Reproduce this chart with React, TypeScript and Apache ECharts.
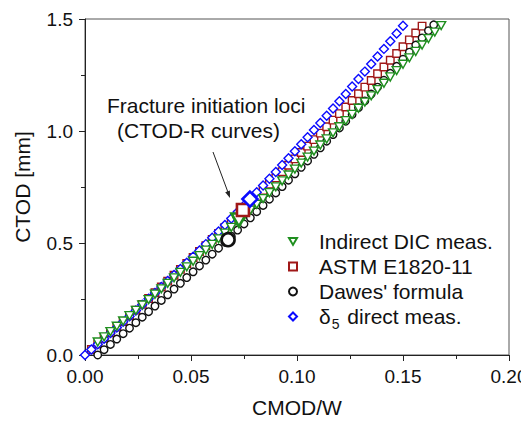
import React, { useEffect, useRef } from "react";
import * as echarts from "echarts";

// CMOD/W vs CTOD [mm]
const dicMeas: [number, number][] = [
  [0.006, 0.058], [0.009, 0.0813], [0.012, 0.1047], [0.015, 0.1282], [0.018, 0.1518],
  [0.021, 0.1755], [0.024, 0.1993], [0.027, 0.2232], [0.03, 0.2472], [0.033, 0.2714],
  [0.036, 0.2956], [0.039, 0.32], [0.042, 0.3445], [0.045, 0.3691], [0.048, 0.3938],
  [0.051, 0.4186], [0.054, 0.4435], [0.057, 0.4685], [0.06, 0.4936], [0.063, 0.5188],
  [0.066, 0.5442], [0.069, 0.5696], [0.072, 0.5952], [0.075, 0.6209], [0.078, 0.6466],
  [0.081, 0.6725], [0.084, 0.6985], [0.087, 0.7246], [0.09, 0.7509], [0.093, 0.7772],
  [0.096, 0.8036], [0.099, 0.8301], [0.102, 0.8568], [0.105, 0.8836], [0.108, 0.9104],
  [0.111, 0.9374], [0.114, 0.9645], [0.117, 0.9917], [0.12, 1.019], [0.123, 1.0464],
  [0.126, 1.0739], [0.129, 1.1016], [0.132, 1.1293], [0.135, 1.1571], [0.138, 1.1851],
  [0.141, 1.2132], [0.144, 1.2413], [0.147, 1.2696], [0.15, 1.298], [0.153, 1.3265],
  [0.156, 1.3551], [0.159, 1.3838], [0.162, 1.4127], [0.165, 1.4416], [0.168, 1.4707],
];

const astm: [number, number][] = [
  [0.003, 0.0247], [0.006, 0.0494], [0.009, 0.0743], [0.012, 0.0993], [0.015, 0.1245],
  [0.018, 0.1497], [0.021, 0.1751], [0.024, 0.2005], [0.027, 0.2261], [0.03, 0.2519],
  [0.033, 0.2777], [0.036, 0.3036], [0.039, 0.3297], [0.042, 0.3559], [0.045, 0.3822],
  [0.048, 0.4086], [0.051, 0.4351], [0.054, 0.4618], [0.057, 0.4885], [0.06, 0.5154],
  [0.063, 0.5424], [0.066, 0.5695], [0.069, 0.5967], [0.072, 0.6241], [0.075, 0.6516],
  [0.078, 0.6791], [0.081, 0.7068], [0.084, 0.7347], [0.087, 0.7626], [0.09, 0.7907],
  [0.093, 0.8188], [0.096, 0.8471], [0.099, 0.8755], [0.102, 0.904], [0.105, 0.9327],
  [0.108, 0.9614], [0.111, 0.9903], [0.114, 1.0193], [0.117, 1.0484], [0.12, 1.0776],
  [0.123, 1.1069], [0.126, 1.1364], [0.129, 1.166], [0.132, 1.1957], [0.135, 1.2255],
  [0.138, 1.2554], [0.141, 1.2854], [0.144, 1.3156], [0.147, 1.3459], [0.15, 1.3763],
  [0.153, 1.4068], [0.156, 1.4374], [0.159, 1.4681],
];

const dawes: [number, number][] = [
  [0.006, 0.0], [0.009, 0.0236], [0.012, 0.0474], [0.015, 0.0713], [0.018, 0.0954],
  [0.021, 0.1197], [0.024, 0.1441], [0.027, 0.1687], [0.03, 0.1935], [0.033, 0.2184],
  [0.036, 0.2435], [0.039, 0.2688], [0.042, 0.2942], [0.045, 0.3198], [0.048, 0.3456],
  [0.051, 0.3715], [0.054, 0.3976], [0.057, 0.4238], [0.06, 0.4503], [0.063, 0.4769],
  [0.066, 0.5036], [0.069, 0.5306], [0.072, 0.5576], [0.075, 0.5849], [0.078, 0.6123],
  [0.081, 0.6399], [0.084, 0.6677], [0.087, 0.6956], [0.09, 0.7237], [0.093, 0.7519],
  [0.096, 0.7804], [0.099, 0.809], [0.102, 0.8377], [0.105, 0.8666], [0.108, 0.8957],
  [0.111, 0.925], [0.114, 0.9544], [0.117, 0.984], [0.12, 1.0137], [0.123, 1.0436],
  [0.126, 1.0737], [0.129, 1.104], [0.132, 1.1344], [0.135, 1.165], [0.138, 1.1957],
  [0.141, 1.2266], [0.144, 1.2577], [0.147, 1.2889], [0.15, 1.3204], [0.153, 1.3519],
  [0.156, 1.3837], [0.159, 1.4156], [0.162, 1.4477], [0.1645, 1.474],
];

const delta5: [number, number][] = [
  [0.0, 0.0], [0.003, 0.0241], [0.006, 0.0484], [0.009, 0.073], [0.012, 0.0977],
  [0.015, 0.1227], [0.018, 0.1479], [0.021, 0.1733], [0.024, 0.1989], [0.027, 0.2247],
  [0.03, 0.2508], [0.033, 0.2771], [0.036, 0.3036], [0.039, 0.3303], [0.042, 0.3572],
  [0.045, 0.3843], [0.048, 0.4116], [0.051, 0.4392], [0.054, 0.467], [0.057, 0.495],
  [0.06, 0.5232], [0.063, 0.5516], [0.066, 0.5803], [0.069, 0.6091], [0.072, 0.6382],
  [0.075, 0.6675], [0.078, 0.697], [0.081, 0.7267], [0.084, 0.7567], [0.087, 0.7868],
  [0.09, 0.8172], [0.093, 0.8478], [0.096, 0.8786], [0.099, 0.9096], [0.102, 0.9408],
  [0.105, 0.9723], [0.108, 1.004], [0.111, 1.0359], [0.114, 1.068], [0.117, 1.1003],
  [0.12, 1.1328], [0.123, 1.1655], [0.126, 1.1985], [0.129, 1.2317], [0.132, 1.2651],
  [0.135, 1.2987], [0.138, 1.3325], [0.141, 1.3666], [0.144, 1.4008], [0.147, 1.4353],
  [0.15, 1.47],
];

// fracture initiation points (highlighted markers)
const initDic: [number, number][] = [[0.0726, 0.603]];
const initAstm: [number, number][] = [[0.0745, 0.647]];
const initDawes: [number, number][] = [[0.0675, 0.515]];
const initDelta5: [number, number][] = [[0.0778, 0.696]];

const seriesNames = ["Indirect DIC meas.", "ASTM E1820-11", "Dawes' formula", "δ5 direct meas."];
const xTicks = { min: 0, max: 0.2, interval: 0.05 };
const yTicks = { min: 0, max: 1.5, interval: 0.5 };
const xTitle = "CMOD/W";
const yTitle = "CTOD [mm]";

const GREEN = "#1f8f1f";
const RED = "#a01818";
const BLACK = "#111111";
const BLUE = "#0a0aff";
const FONT = "'Liberation Sans', Arial, sans-serif";
const DOWN_TRIANGLE = "path://M0,0 L20,0 L10,17 Z";

export default function App() {
  const ref = useRef<HTMLDivElement>(null);
  useEffect(() => {
    if (!ref.current) return;
    const chart = echarts.init(ref.current, undefined, { renderer: "svg" });
    const mk = (name: string, data: [number, number][], symbol: string, color: string, size: number | number[], bw = 1.4) => ({
      type: "scatter",
      name,
      data,
      symbol,
      symbolSize: size,
      itemStyle: { color: "#ffffff", borderColor: color, borderWidth: bw, opacity: 1 },
      emphasis: { disabled: true },
    });
    chart.setOption({
      animation: false,
      textStyle: { fontFamily: FONT },
      grid: {
        left: 85, right: 20, top: 19, bottom: 69,
        containLabel: false,
        outerBoundsMode: "none",
        show: true, borderColor: "#555", borderWidth: 1, backgroundColor: "transparent",
      },
      xAxis: {
        type: "value",
        min: xTicks.min,
        max: xTicks.max,
        interval: xTicks.interval,
        axisLine: { show: true, onZero: false, lineStyle: { color: "#222", width: 1 } },
        axisTick: { show: true, inside: false, length: 6, lineStyle: { color: "#222" } },
        minorTick: { show: true, splitNumber: 2, length: 4, lineStyle: { color: "#222" } },
        splitLine: { show: false },
        axisLabel: { fontSize: 19, color: "#111", margin: 12, fontFamily: FONT, formatter: (v: number) => v.toFixed(2) },
      },
      yAxis: {
        type: "value",
        min: yTicks.min,
        max: yTicks.max,
        interval: yTicks.interval,
        name: yTitle,
        nameLocation: "middle",
        nameGap: 52,
        nameTextStyle: { fontSize: 21, color: "#111", fontFamily: FONT },
        axisLine: { show: true, onZero: false, lineStyle: { color: "#222", width: 1 } },
        axisTick: { show: true, inside: false, length: 6, lineStyle: { color: "#222" } },
        minorTick: { show: true, splitNumber: 2, length: 4, lineStyle: { color: "#222" } },
        splitLine: { show: false },
        axisLabel: { fontSize: 19, color: "#111", margin: 12, fontFamily: FONT, formatter: (v: number) => v.toFixed(1) },
      },
      legend: {
        data: seriesNames,
        orient: "vertical",
        left: 283,
        top: 226,
        itemWidth: 8,
        itemHeight: 8,
        itemGap: 4,
        selectedMode: false,
        textStyle: {
          fontSize: 21,
          color: "#111",
          fontFamily: FONT,
          padding: [0, 0, 0, 17],
          rich: {
            s: { fontSize: 14, fontFamily: FONT, color: "#111", padding: [14, 2, 0, 1] },
          },
        },
        formatter: (name: string) => (name.startsWith("δ5") ? "δ{s|5} direct meas." : name),
      },
      series: [
        mk(seriesNames[1], astm, "rect", RED, 7.5),
        mk(seriesNames[3], delta5, "diamond", BLUE, 9),
        mk(seriesNames[2], dawes, "circle", BLACK, 7.5),
        mk(seriesNames[0], dicMeas, DOWN_TRIANGLE, GREEN, [9, 8]),
        mk("init DIC", initDic, DOWN_TRIANGLE, GREEN, [15, 13], 2.6),
        mk("init ASTM", initAstm, "rect", RED, 12, 2.6),
        mk("init Dawes", initDawes, "circle", BLACK, 13, 2.6),
        mk("init delta5", initDelta5, "diamond", BLUE, 15, 2.6),
      ],
      graphic: [
        { type: "text", x: 297, y: 407, style: { text: xTitle, fontSize: 21, fill: "#111", fontFamily: FONT, align: "center", verticalAlign: "middle" } },
        { type: "text", left: 107, top: 95, style: { text: "Fracture initiation loci", fontSize: 21, fill: "#111", fontFamily: FONT } },
        { type: "text", left: 117, top: 120, style: { text: "(CTOD-R curves)", fontSize: 21, fill: "#111", fontFamily: FONT } },
        { type: "line", shape: { x1: 213, y1: 152, x2: 229, y2: 195 }, style: { stroke: "#222", lineWidth: 1 } },
        { type: "polygon", shape: { points: [[230, 198], [229.9, 190.5], [225.2, 192.3]] }, style: { fill: "#222" } },
      ],
    });
    return () => chart.dispose();
  }, []);
  return <div ref={ref} style={{ width: 529, height: 424, margin: -8 }} />;
}
